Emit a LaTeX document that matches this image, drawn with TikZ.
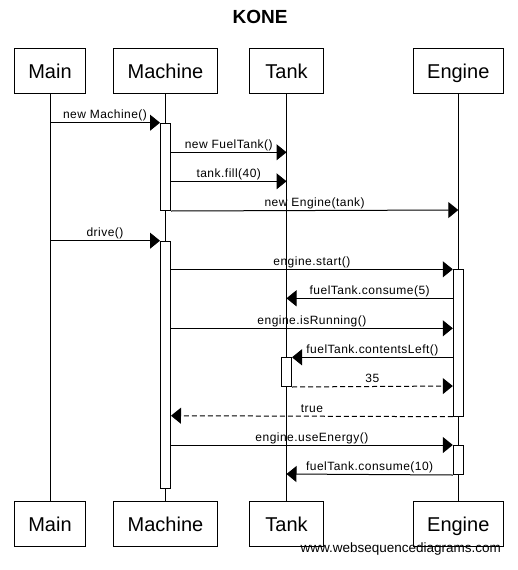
\documentclass[tikz,border=0pt]{standalone}
\usepackage{fontspec}
\setmainfont{Liberation Sans}
\usetikzlibrary{arrows.meta}
\begin{document}
\begin{tikzpicture}[x=1pt,y=-1pt,line width=1pt,
  actor/.style={draw, fill=white, minimum width=#1, minimum height=45pt, inner sep=0pt,
    font=\fontsize{20}{20}\selectfont, text height=15pt, text depth=0pt},
  lifeline/.style={draw},
  activation/.style={draw, fill=white, minimum width=10pt, minimum height=#1, inner sep=0pt, anchor=north},
  msg/.style={-{Triangle[length=10pt,width=16pt]}},
  reply/.style={msg, dash pattern=on 5pt off 3pt},
  lbl/.style={midway, anchor=base, yshift=4pt, inner sep=0pt,
    font=\fontsize{12}{14}\selectfont\addfontfeatures{LetterSpace=4}}
]
\path[use as bounding box, fill=white] (0,0) rectangle (517,570);

% title
\node[anchor=base, inner sep=0pt, font=\fontsize{19}{19}\selectfont\bfseries] (title) at (260,23.3) {KONE};

% participants, top and bottom
\node[actor=71.4pt] (mainT) at (50,70.8) {Main};
\node[actor=104.4pt] (machT) at (165.5,70.8) {Machine};
\node[actor=74pt] (tankT) at (286.5,70.8) {Tank};
\node[actor=90pt] (engT) at (458.3,70.8) {Engine};
\node[actor=71.4pt] (mainB) at (50,523.85) {Main};
\node[actor=104.4pt] (machB) at (165.5,523.85) {Machine};
\node[actor=74pt] (tankB) at (286.5,523.85) {Tank};
\node[actor=90pt] (engB) at (458.3,523.85) {Engine};

% lifelines
\draw[lifeline] (mainT) -- (mainB);
\draw[lifeline] (machT) -- (machB);
\draw[lifeline] (tankT) -- (tankB);
\draw[lifeline] (engT) -- (engB);

% message rows
\coordinate (m1) at (0,122.7);
\coordinate (m2) at (0,152.3);
\coordinate (m3) at (0,181.3);
\coordinate (m4) at (0,210);
\coordinate (m5) at (0,240.7);
\coordinate (m6) at (0,269.3);
\coordinate (m7) at (0,298.3);
\coordinate (m8) at (0,328.3);
\coordinate (m9) at (0,357.3);
\coordinate (m10) at (0,386);
\coordinate (m11) at (0,415.7);
\coordinate (m12) at (0,445);
\coordinate (m13) at (0,474);

% activation bars
\node[activation=87.3pt] (aM1) at (machT |- m1) {};
\node[activation=247pt] (aM2) at (machT |- m5) {};
\node[activation=146.4pt] (aE1) at (engT |- m6) {};
\node[activation=29pt] (aE2) at (engT |- m12) {};
\node[activation=28.7pt] (aT) at (tankT |- m9) {};

% messages
\draw[msg] (mainT |- m1) -- node[lbl] {new Machine()} (aM1.north west);
\draw[msg] (aM1.east |- m2) -- node[lbl] {new FuelTank()} (tankT |- m2);
\draw[msg] (aM1.east |- m3) -- node[lbl] {tank.fill(40)} (tankT |- m3);
\draw[msg] (aM1.south east) -- node[lbl] {new Engine(tank)} (engT |- m4);
\draw[msg] (mainT |- m5) -- node[lbl] {drive()} (aM2.north west);
\draw[msg] (aM2.east |- m6) -- node[lbl] {engine.start()} (aE1.north west);
\draw[msg] (aE1.west |- m7) -- node[lbl] {fuelTank.consume(5)} (tankT |- m7);
\draw[msg] (aM2.east |- m8) -- node[lbl] {engine.isRunning()} (aE1.west |- m8);
\draw[msg] (aE1.west |- m9) -- node[lbl] {fuelTank.contentsLeft()} (aT.north east);
\draw[reply] (aT.south east) -- node[lbl] {35} (aE1.west |- m10);
\draw[reply] (aE1.south west) -- node[lbl] {true} (aM2.east |- m11);
\draw[msg] (aM2.east |- m12) -- node[lbl] {engine.useEnergy()} (aE2.north west);
\draw[msg] (aE2.south west) -- node[lbl] {fuelTank.consume(10)} (tankT |- m13);

% footer
\node[anchor=base, inner sep=0pt, font=\fontsize{13.5}{14}\selectfont] (site) at (400.8,552.7) {www.websequencediagrams.com};
\end{tikzpicture}
\end{document}
